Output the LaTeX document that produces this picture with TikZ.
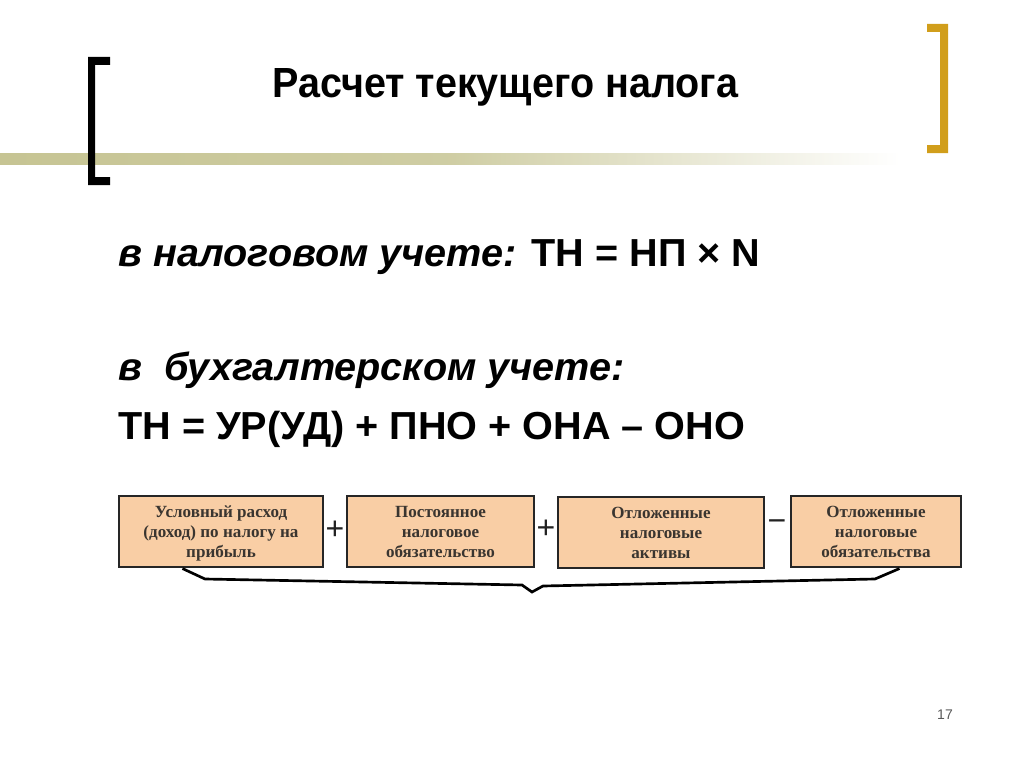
\documentclass[tikz,border=0pt]{standalone}
\usepackage{fontspec}
\setmainfont{Liberation Sans}
\newfontfamily\boxfont{Liberation Serif}
\usepackage{graphicx}
\definecolor{band}{HTML}{C6C493}
\definecolor{gold}{HTML}{D19E1B}
\definecolor{peach}{HTML}{F9CEA5}
\definecolor{boxtext}{HTML}{3A3530}
\definecolor{signcol}{HTML}{222222}
\newsavebox\lineA
\sbox\lineA{\fontsize{29.3pt}{35pt}\selectfont\bfseries\itshape в налоговом учете: \upshape ТН = НП × N}
\pgfmathsetmacro\sx{481.5/\wd\lineA}
\begin{document}
\begin{tikzpicture}[x=0.75pt,y=-0.75pt,
  boxst/.style={draw=black!85, line width=0.8pt, fill=peach, text=boxtext,
    font=\boxfont\bfseries\fontsize{12.8pt}{15pt}\selectfont, align=center,
    minimum height=53.25pt, inner sep=1pt, text height=38.25pt, text depth=0pt},
  signst/.style={text=signcol, font=\fontsize{24pt}{26pt}\selectfont, inner sep=0pt},
  bodyst/.style={anchor=base west, inner sep=0pt, font=\fontsize{29.3pt}{35pt}\selectfont\bfseries},
  bracketst/.style={line width=2pt, line join=miter}]
\useasboundingbox (0,0) rectangle (1024,767);
% decorative band
\shade[left color=band, right color=white, middle color=band!85!white] (0,153) rectangle (900,164);
% black bracket
\fill[black] (88,57) -- (110,57) -- (110,65) -- (95,65) -- (95,177) -- (110,177) -- (110,185) -- (88,185) -- cycle;
% gold bracket
\fill[gold] (948,24) -- (927,24) -- (927,32) -- (940,32) -- (940,145) -- (927,145) -- (927,153) -- (948,153) -- cycle;
% title
\node[anchor=base west, inner sep=0pt] (title) at (272,97) {\resizebox{349.5pt}{21.75pt}{\bfseries Расчет текущего налога}};
% body lines
\node[bodyst] (l1) at (118,266) {\scalebox{\sx}[1]{\itshape в налоговом учете: \upshape ТН = НП × N}};
\node[bodyst] (l2) at (118,380) {\scalebox{\sx}[1]{\itshape в\ \ бухгалтерском учете:}};
\node[bodyst] (l3) at (118,439) {\scalebox{\sx}[1]{ТН = УР(УД) + ПНО + ОНА – ОНО}};
% boxes
\node[boxst, minimum width=153pt] (b1) at (221,531.5) {Условный расход\\(доход) по налогу на\\прибыль};
\node[boxst, minimum width=140.25pt] (b2) at (440.5,531.5) {Постоянное\\налоговое\\обязательство};
\node[boxst, minimum width=154.5pt] (b3) at (661,532.5) {Отложенные\\налоговые\\активы};
\node[boxst, minimum width=127.5pt] (b4) at (876,531.5) {Отложенные\\налоговые\\обязательства};
% signs
\node[signst] (p1) at (335,530) {+};
\node[signst] (p2) at (546,529) {+};
\node[signst] (m1) at (777,526) {−};
% brace under boxes
\path (b1.south west) ++(64,1) coordinate (bs);
\path (b4.south west) ++(109,1) coordinate (be);
\coordinate (k1) at (205,579);
\coordinate (k2) at (522,585);
\coordinate (tip) at (532,592);
\coordinate (k3) at (543,586);
\coordinate (k4) at (875,579);
\draw[bracketst] (bs) -- (k1) -- (k2) -- (tip) -- (k3) -- (k4) -- (be);
% page number
\node[text=black!65, font=\fontsize{10.5pt}{12pt}\selectfont] (pg) at (945,715) {17};
\end{tikzpicture}
\end{document}
